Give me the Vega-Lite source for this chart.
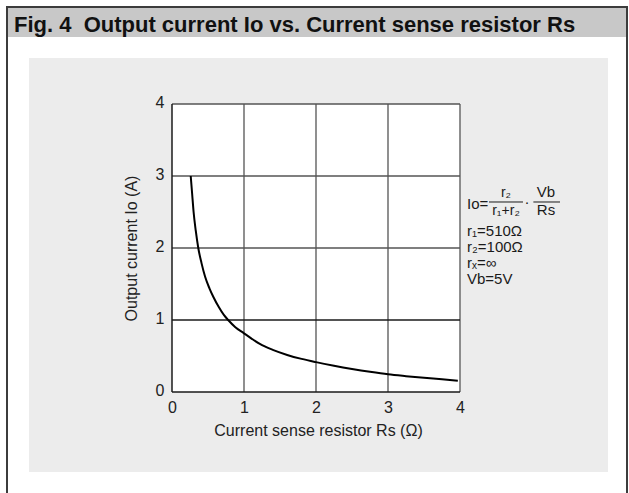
{
  "$schema": "https://vega.github.io/schema/vega-lite/v6.json",
  "background": "white",
  "padding": {"left": 6, "top": 6, "right": 0, "bottom": 0},
  "config": {"view": {"stroke": null}, "font": "Liberation Sans", "concat": {"spacing": 0}},
  "datasets": {
    "curve": [
      {"Rs": 0.26, "Io": 3.0},
      {"Rs": 0.28, "Io": 2.75},
      {"Rs": 0.30, "Io": 2.5},
      {"Rs": 0.33, "Io": 2.24},
      {"Rs": 0.365, "Io": 2.0},
      {"Rs": 0.41, "Io": 1.79},
      {"Rs": 0.46, "Io": 1.6},
      {"Rs": 0.52, "Io": 1.44},
      {"Rs": 0.575, "Io": 1.32},
      {"Rs": 0.65, "Io": 1.18},
      {"Rs": 0.72, "Io": 1.07},
      {"Rs": 0.78, "Io": 1.0},
      {"Rs": 0.88, "Io": 0.9},
      {"Rs": 1.0, "Io": 0.815},
      {"Rs": 1.1, "Io": 0.745},
      {"Rs": 1.22, "Io": 0.667},
      {"Rs": 1.4, "Io": 0.585},
      {"Rs": 1.6, "Io": 0.515},
      {"Rs": 1.8, "Io": 0.46},
      {"Rs": 2.0, "Io": 0.415},
      {"Rs": 2.25, "Io": 0.365},
      {"Rs": 2.5, "Io": 0.32},
      {"Rs": 2.75, "Io": 0.28},
      {"Rs": 3.0, "Io": 0.245},
      {"Rs": 3.25, "Io": 0.22},
      {"Rs": 3.5, "Io": 0.198},
      {"Rs": 3.75, "Io": 0.177},
      {"Rs": 3.97, "Io": 0.157}
    ],
    "vgrid": [{"v": 1}, {"v": 2}, {"v": 3}, {"v": 4}],
    "hgrid": [{"v": 2}, {"v": 3}, {"v": 4}],
    "hgrid1": [{"v": 1}],
    "one": [{}]
  },
  "vconcat": [
    {"width": 622, "height": 2, "view": {"fill": "#3c3c3c", "stroke": null}, "data": {"values": []}, "mark": "rect"},
    {
      "spacing": 0,
      "hconcat": [
        {"width": 2, "height": 485, "view": {"fill": "#3c3c3c", "stroke": null}, "data": {"values": []}, "mark": "rect"},
        {
          "spacing": 0,
          "vconcat": [
            {
              "width": 618, "height": 29,
              "view": {"fill": "#c8c8c8", "stroke": null},
              "data": {"name": "one"},
              "mark": {"type": "text", "align": "left", "baseline": "alphabetic", "dx": 6, "dy": 9, "font": "Liberation Sans", "fontSize": 22, "fontWeight": "bold", "color": "#111111"},
              "encoding": {
                "x": {"datum": 0, "type": "quantitative", "scale": {"domain": [0, 1]}, "axis": null},
                "text": {"value": "Fig. 4\u00a0 Output current Io vs. Current sense resistor Rs"}
              }
            },
            {"width": 618, "height": 21, "view": {"fill": "white", "stroke": null}, "data": {"values": []}, "mark": "rect"},
            {
              "spacing": 0,
              "hconcat": [
                {"width": 21, "height": 414, "view": {"fill": "white", "stroke": null}, "data": {"values": []}, "mark": "rect"},
                {
                  "width": 579, "height": 414,
                  "view": {"fill": "#ececec", "stroke": null},
                  "layer": [
                    {
                      "data": {"name": "one"},
                      "mark": {"type": "rect", "fill": "white"},
                      "encoding": {
                        "x": {"datum": 0, "type": "quantitative", "scale": {"domain": [-1.9861, 6.0556], "nice": false, "zero": false}},
                        "x2": {"datum": 4},
                        "y": {"datum": 0, "type": "quantitative", "scale": {"domain": [-1.1111, 4.6389], "nice": false, "zero": false}},
                        "y2": {"datum": 4}
                      }
                    },
                    {
                      "data": {"name": "vgrid"},
                      "mark": {"type": "rule", "color": "#6b6b6b", "strokeWidth": 1.5},
                      "encoding": {
                        "x": {"field": "v", "type": "quantitative"},
                        "y": {"datum": 0, "type": "quantitative"},
                        "y2": {"datum": 4}
                      }
                    },
                    {
                      "data": {"name": "hgrid"},
                      "mark": {"type": "rule", "color": "#555555", "strokeWidth": 1.5},
                      "encoding": {
                        "y": {"field": "v", "type": "quantitative"},
                        "x": {"datum": 0, "type": "quantitative"},
                        "x2": {"datum": 4}
                      }
                    },
                    {
                      "data": {"name": "hgrid1"},
                      "mark": {"type": "rule", "color": "#1a1a1a", "strokeWidth": 1.5},
                      "encoding": {
                        "y": {"field": "v", "type": "quantitative"},
                        "x": {"datum": 0, "type": "quantitative"},
                        "x2": {"datum": 4}
                      }
                    },
                    {
                      "data": {"name": "one"},
                      "mark": {"type": "rule", "color": "#1a1a1a", "strokeWidth": 1.5},
                      "encoding": {
                        "x": {"datum": 0, "type": "quantitative"},
                        "y": {"datum": 0, "type": "quantitative"},
                        "y2": {"datum": 4}
                      }
                    },
                    {
                      "data": {"name": "one"},
                      "mark": {"type": "rule", "color": "#1a1a1a", "strokeWidth": 1.5},
                      "encoding": {
                        "y": {"datum": 0, "type": "quantitative"},
                        "x": {"datum": 0, "type": "quantitative"},
                        "x2": {"datum": 4}
                      }
                    },
                    {
                      "data": {"name": "curve"},
                      "mark": {"type": "line", "color": "#000000", "strokeWidth": 2, "interpolate": "monotone"},
                      "encoding": {
                        "x": {
                          "field": "Rs", "type": "quantitative",
                          "scale": {"domain": [-1.9861, 6.0556], "nice": false, "zero": false},
                          "axis": {
                            "values": [0, 1, 2, 3, 4], "format": "d", "offset": -80, "domain": false, "ticks": false, "tickSize": 0, "grid": false,
                            "labelPadding": 7, "labelFont": "Liberation Sans", "labelFontSize": 16, "labelColor": "#222222",
                            "labelFlush": false, "labelOverlap": false,
                            "title": "Current sense resistor Rs (Ω)", "titleFont": "Liberation Sans", "titleFontSize": 16,
                            "titleFontWeight": "normal", "titleColor": "#222222", "titleX": 289, "titleY": 43,
                            "titleBaseline": "alphabetic", "titleAlign": "center"
                          }
                        },
                        "y": {
                          "field": "Io", "type": "quantitative",
                          "scale": {"domain": [-1.1111, 4.6389], "nice": false, "zero": false},
                          "axis": {
                            "values": [0, 1, 2, 3, 4], "format": "d", "offset": -143, "domain": false, "ticks": false, "tickSize": 0, "grid": false,
                            "labelPadding": 8, "labelOffset": -2, "labelFont": "Liberation Sans", "labelFontSize": 16, "labelColor": "#222222",
                            "labelFlush": false, "labelOverlap": false,
                            "title": "Output current Io (A)", "titleFont": "Liberation Sans", "titleFontSize": 16,
                            "titleFontWeight": "normal", "titleColor": "#222222", "titleX": -36, "titleY": 190, "titleAngle": -90,
                            "titleBaseline": "alphabetic", "titleAlign": "center"
                          }
                        }
                      }
                    },
                    {
                      "data": {"name": "one"},
                      "mark": {"type": "text", "align": "left", "baseline": "alphabetic", "font": "Liberation Sans", "fontSize": 15, "color": "#1a1a1a"},
                      "encoding": {
                        "x": {"datum": 4.0972, "type": "quantitative"},
                        "y": {"datum": 2.5375, "type": "quantitative"},
                        "text": {"value": "Io="}
                      }
                    },
                    {
                      "data": {"name": "one"},
                      "mark": {"type": "text", "align": "center", "baseline": "alphabetic", "font": "Liberation Sans", "fontSize": 14, "color": "#1a1a1a"},
                      "encoding": {
                        "x": {"datum": 4.639, "type": "quantitative"},
                        "y": {"datum": 2.704, "type": "quantitative"},
                        "text": {"value": "r₂"}
                      }
                    },
                    {
                      "data": {"name": "one"},
                      "mark": {"type": "text", "align": "center", "baseline": "alphabetic", "font": "Liberation Sans", "fontSize": 14, "color": "#1a1a1a"},
                      "encoding": {
                        "x": {"datum": 4.639, "type": "quantitative"},
                        "y": {"datum": 2.458, "type": "quantitative"},
                        "text": {"value": "r₁+r₂"}
                      }
                    },
                    {
                      "data": {"name": "one"},
                      "mark": {"type": "rule", "color": "#1a1a1a", "strokeWidth": 1},
                      "encoding": {
                        "x": {"datum": 4.403, "type": "quantitative"},
                        "x2": {"datum": 4.875},
                        "y": {"datum": 2.639, "type": "quantitative"}
                      }
                    },
                    {
                      "data": {"name": "one"},
                      "mark": {"type": "text", "align": "center", "baseline": "alphabetic", "font": "Liberation Sans", "fontSize": 15, "color": "#1a1a1a"},
                      "encoding": {
                        "x": {"datum": 4.931, "type": "quantitative"},
                        "y": {"datum": 2.569, "type": "quantitative"},
                        "text": {"value": "·"}
                      }
                    },
                    {
                      "data": {"name": "one"},
                      "mark": {"type": "text", "align": "center", "baseline": "alphabetic", "font": "Liberation Sans", "fontSize": 15, "color": "#1a1a1a"},
                      "encoding": {
                        "x": {"datum": 5.194, "type": "quantitative"},
                        "y": {"datum": 2.704, "type": "quantitative"},
                        "text": {"value": "Vb"}
                      }
                    },
                    {
                      "data": {"name": "one"},
                      "mark": {"type": "text", "align": "center", "baseline": "alphabetic", "font": "Liberation Sans", "fontSize": 15, "color": "#1a1a1a"},
                      "encoding": {
                        "x": {"datum": 5.194, "type": "quantitative"},
                        "y": {"datum": 2.458, "type": "quantitative"},
                        "text": {"value": "Rs"}
                      }
                    },
                    {
                      "data": {"name": "one"},
                      "mark": {"type": "rule", "color": "#1a1a1a", "strokeWidth": 1},
                      "encoding": {
                        "x": {"datum": 5.019, "type": "quantitative"},
                        "x2": {"datum": 5.389},
                        "y": {"datum": 2.639, "type": "quantitative"}
                      }
                    },
                    {
                      "data": {"name": "one"},
                      "mark": {"type": "text", "align": "left", "baseline": "alphabetic", "lineHeight": 16.1, "font": "Liberation Sans", "fontSize": 15, "color": "#1a1a1a"},
                      "encoding": {
                        "x": {"datum": 4.0972, "type": "quantitative"},
                        "y": {"datum": 2.1667, "type": "quantitative"},
                        "text": {"value": ["r₁=510Ω", "r₂=100Ω", "rₓ=∞", "Vb=5V"]}
                      }
                    }
                  ]
                }
              ]
            }
          ]
        },
        {"width": 2, "height": 485, "view": {"fill": "#3c3c3c", "stroke": null}, "data": {"values": []}, "mark": "rect"}
      ]
    }
  ]
}
